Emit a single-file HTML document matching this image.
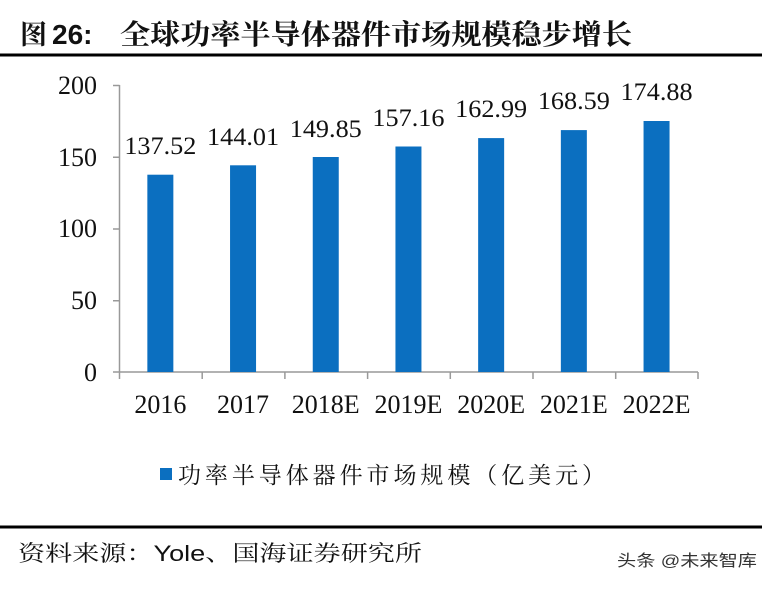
<!DOCTYPE html>
<html>
<head>
<meta charset="utf-8">
<style>
html,body{margin:0;padding:0;background:#fff;}
svg{display:block;}
</style>
</head>
<body>
<svg width="775" height="590" viewBox="0 0 775 590" xmlns="http://www.w3.org/2000/svg">
  <rect width="775" height="590" fill="#fff"/>
  <!-- Title -->
  <text x="20" y="44" font-family="'Noto Serif CJK SC', serif" font-weight="700" font-size="27" fill="#111">图</text>
  <text x="52" y="44" font-family="'Liberation Sans', sans-serif" font-weight="700" font-size="28" fill="#111">26:</text>
  <text x="120" y="44" font-family="'Liberation Serif','Noto Serif CJK SC', serif" font-weight="700" font-size="28" fill="#111" textLength="512" lengthAdjust="spacingAndGlyphs">全球功率半导体器件市场规模稳步增长</text>
  <line x1="0" y1="55" x2="762" y2="55" stroke="#000" stroke-width="3"/>

  <!-- Axes -->
  <g stroke="#999" stroke-width="1.5" fill="none">
    <line x1="119.5" y1="85" x2="119.5" y2="372"/>
    <line x1="113" y1="85.5" x2="119.5" y2="85.5"/>
    <line x1="113" y1="157.25" x2="119.5" y2="157.25"/>
    <line x1="113" y1="229" x2="119.5" y2="229"/>
    <line x1="113" y1="300.75" x2="119.5" y2="300.75"/>
    <line x1="113" y1="372" x2="698" y2="372"/>
    <line x1="119.5" y1="372" x2="119.5" y2="379"/>
    <line x1="202.2" y1="372" x2="202.2" y2="379"/>
    <line x1="284.9" y1="372" x2="284.9" y2="379"/>
    <line x1="367.6" y1="372" x2="367.6" y2="379"/>
    <line x1="450.3" y1="372" x2="450.3" y2="379"/>
    <line x1="533" y1="372" x2="533" y2="379"/>
    <line x1="615.7" y1="372" x2="615.7" y2="379"/>
    <line x1="698" y1="372" x2="698" y2="379"/>
  </g>

  <!-- Y labels -->
  <g font-family="'Liberation Serif', serif" font-size="26" fill="#111" text-anchor="end">
    <text x="97" y="94">200</text>
    <text x="97" y="166">150</text>
    <text x="97" y="237">100</text>
    <text x="97" y="309">50</text>
    <text x="97" y="381">0</text>
  </g>

  <!-- Bars -->
  <g fill="#0b6fc0">
    <rect x="147.35" y="174.7" width="26" height="197.3"/>
    <rect x="230.05" y="165.3" width="26" height="206.7"/>
    <rect x="312.75" y="157.0" width="26" height="215.0"/>
    <rect x="395.45" y="146.5" width="26" height="225.5"/>
    <rect x="478.15" y="138.1" width="26" height="233.9"/>
    <rect x="560.85" y="130.1" width="26" height="241.9"/>
    <rect x="643.55" y="121.0" width="26" height="251.0"/>
  </g>

  <!-- Value labels -->
  <g font-family="'Liberation Serif', serif" font-size="25" fill="#111" text-anchor="middle">
    <text x="160.35" y="154" textLength="72" lengthAdjust="spacingAndGlyphs">137.52</text>
    <text x="243.05" y="145" textLength="72" lengthAdjust="spacingAndGlyphs">144.01</text>
    <text x="325.75" y="137" textLength="72" lengthAdjust="spacingAndGlyphs">149.85</text>
    <text x="408.45" y="126" textLength="72" lengthAdjust="spacingAndGlyphs">157.16</text>
    <text x="491.15" y="117" textLength="72" lengthAdjust="spacingAndGlyphs">162.99</text>
    <text x="573.85" y="109" textLength="72" lengthAdjust="spacingAndGlyphs">168.59</text>
    <text x="656.55" y="100" textLength="72" lengthAdjust="spacingAndGlyphs">174.88</text>
  </g>

  <!-- X labels -->
  <g font-family="'Liberation Serif', serif" font-size="26" fill="#111" text-anchor="middle">
    <text x="160.35" y="413">2016</text>
    <text x="243.05" y="413">2017</text>
    <text x="325.75" y="413">2018E</text>
    <text x="408.45" y="413">2019E</text>
    <text x="491.15" y="413">2020E</text>
    <text x="573.85" y="413">2021E</text>
    <text x="656.55" y="413">2022E</text>
  </g>

  <!-- Legend -->
  <rect x="160" y="468" width="12" height="12" fill="#0b6fc0"/>
  <text x="178" y="483" font-family="'Liberation Serif','Noto Serif CJK SC', serif" font-size="23" fill="#111" textLength="427" lengthAdjust="spacing">功率半导体器件市场规模（亿美元）</text>

  <!-- Bottom -->
  <line x1="0" y1="527" x2="762" y2="527" stroke="#000" stroke-width="3"/>
  <text x="18" y="561" font-family="'Liberation Sans','Noto Serif CJK SC', sans-serif" font-size="22" fill="#111" textLength="404" lengthAdjust="spacingAndGlyphs">资料来源：Yole、国海证券研究所</text>
  <text x="617" y="566" font-family="'Liberation Sans','Noto Sans CJK SC', sans-serif" font-size="16" fill="#333" textLength="140" lengthAdjust="spacingAndGlyphs">头条 @未来智库</text>
</svg>
</body>
</html>
